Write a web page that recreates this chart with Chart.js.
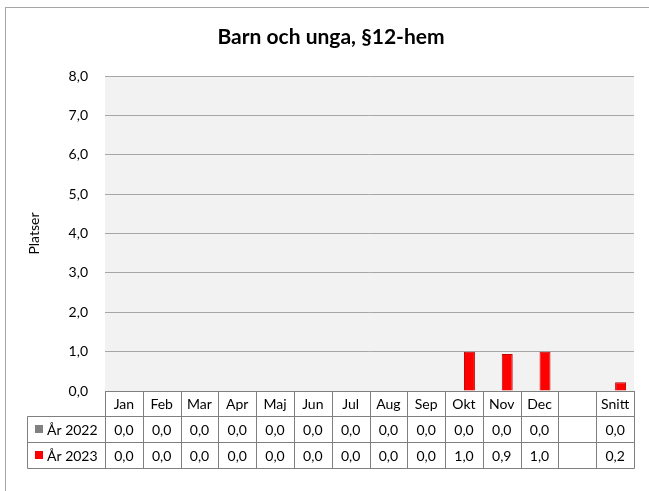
<!DOCTYPE html>
<html>
<head>
<meta charset="utf-8">
<script src="https://cdn.jsdelivr.net/npm/chart.js@4/dist/chart.umd.min.js"></script>
<style>
  html, body { margin: 0; padding: 0; background: #fff; }
  #wrap { width: 649px; height: 491px; }
</style>
</head>
<body>
<div id="wrap"><canvas id="chart" width="649" height="491"></canvas></div>
<script>
const chartTitle = 'Barn och unga, §12-hem';
const axisTitle = 'Platser';
const categories = ['Jan', 'Feb', 'Mar', 'Apr', 'Maj', 'Jun', 'Jul', 'Aug', 'Sep', 'Okt', 'Nov', 'Dec', '', 'Snitt'];
const seriesNames = ['År 2022', 'År 2023'];
const values2022 = [0, 0, 0, 0, 0, 0, 0, 0, 0, 0, 0, 0, null, 0];
const values2023 = [0, 0, 0, 0, 0, 0, 0, 0, 0, 1.0, 0.94, 1.0, null, 0.22];
const yTicks = [0, 1, 2, 3, 4, 5, 6, 7, 8];

const FONT = 'Lato, "Open Sans", sans-serif';
const fmt = v => (v === null ? '' : v.toFixed(1).replace('.', ','));

// frame, title and the data table under the plot
const tablePlugin = {
  id: 'dataTable',
  beforeDraw(chart) {
    const { ctx, chartArea } = chart;
    ctx.save();
    ctx.fillStyle = '#f2f2f2';
    ctx.fillRect(chartArea.left, chartArea.top, chartArea.right - chartArea.left, chartArea.bottom - chartArea.top);
    ctx.restore();
  },
  afterDraw(chart) {
    const { ctx, chartArea } = chart;
    const x = chart.scales.x;
    const half = (x.getPixelForValue(1) - x.getPixelForValue(0)) / 2;
    const top = chartArea.bottom;
    const rows = [top, top + 25, top + 51, top + 77];
    const legendLeft = 27;

    ctx.save();
    // outer frame
    ctx.strokeStyle = '#a6a6a6';
    ctx.lineWidth = 1;
    ctx.strokeRect(5.5, 7.5, 660, 500);

    // title
    ctx.fillStyle = '#000';
    ctx.font = 'bold 21px ' + FONT;
    ctx.textAlign = 'center';
    ctx.textBaseline = 'middle';
    ctx.fillText(chartTitle, 331, 37);

    // grid of the table
    ctx.strokeStyle = '#7f7f7f';
    ctx.beginPath();
    const left = Math.round(x.getPixelForValue(0) - half) + 0.5;
    const right = Math.round(x.getPixelForValue(categories.length - 1) + half) + 0.5;
    ctx.moveTo(left, rows[0] + 0.5); ctx.lineTo(right, rows[0] + 0.5);
    for (let r = 1; r < rows.length; r++) {
      ctx.moveTo(legendLeft + 0.5, rows[r] + 0.5); ctx.lineTo(right, rows[r] + 0.5);
    }
    ctx.moveTo(legendLeft + 0.5, rows[1] + 0.5); ctx.lineTo(legendLeft + 0.5, rows[3] + 0.5);
    categories.forEach((c, i) => {
      const cx = Math.round(x.getPixelForValue(i) - half) + 0.5;
      ctx.moveTo(cx, rows[0]); ctx.lineTo(cx, rows[3] + 0.5);
    });
    ctx.moveTo(right, rows[0]); ctx.lineTo(right, rows[3] + 0.5);
    ctx.stroke();

    // texts
    ctx.fillStyle = '#000';
    ctx.font = '14px ' + FONT;
    ctx.textAlign = 'center';
    categories.forEach((c, i) => {
      const cx = x.getPixelForValue(i);
      ctx.fillText(c, cx, (rows[0] + rows[1]) / 2 + 1);
      chart.data.datasets.forEach((ds, d) => {
        ctx.fillText(fmt(ds.data[i]), cx, (rows[d + 1] + rows[d + 2]) / 2 + 1);
      });
    });

    // legend keys
    chart.data.datasets.forEach((ds, d) => {
      const cy = (rows[d + 1] + rows[d + 2]) / 2;
      ctx.fillStyle = ds.backgroundColor;
      ctx.fillRect(35, cy - 4, 8, 8);
      ctx.fillStyle = '#000';
      ctx.textAlign = 'left';
      ctx.fillText(ds.label, 47, cy + 1);
    });
    ctx.restore();
  }
};

new Chart(document.getElementById('chart'), {
  type: 'bar',
  data: {
    labels: categories,
    datasets: [
      { label: seriesNames[0], data: values2022, backgroundColor: '#808080', borderColor: '#606060', borderWidth: 1 },
      { label: seriesNames[1], data: values2023, backgroundColor: '#ff0000', borderColor: '#c00000', borderWidth: 1 }
    ]
  },
  options: {
    responsive: false,
    animation: false,
    layout: { padding: { left: 6, right: 15, top: 76, bottom: 100 } },
    datasets: { bar: { categoryPercentage: 0.58, barPercentage: 1 } },
    plugins: {
      legend: { display: false },
      title: { display: false },
      tooltip: { enabled: false }
    },
    scales: {
      x: {
        display: false
      },
      y: {
        min: 0,
        max: 8,
        afterBuildTicks: scale => { scale.ticks = yTicks.map(v => ({ value: v })); },
        afterFit: scale => { scale.width = 99; },
        border: { display: false },
        grid: { color: '#a6a6a6', drawTicks: false },
        ticks: {
          padding: 17,
          color: '#000',
          font: { family: FONT, size: 14 },
          callback: v => fmt(v)
        },
        title: {
          display: true,
          text: axisTitle,
          color: '#000',
          font: { family: FONT, size: 14 },
          padding: { top: 20, bottom: 0 }
        }
      }
    }
  },
  plugins: [tablePlugin]
});
</script>
</body>
</html>
